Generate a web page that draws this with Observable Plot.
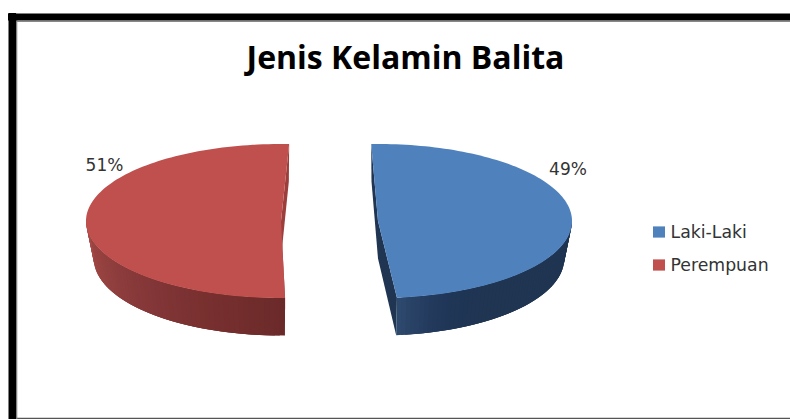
<!DOCTYPE html>
<html>
<head>
<meta charset="utf-8">
<style>html,body{margin:0;padding:0;background:#fff}svg{display:block}</style>
<script src="https://cdn.jsdelivr.net/npm/d3@7"></script>
<script src="https://cdn.jsdelivr.net/npm/@observablehq/plot@0.6"></script>
</head>
<body>
<div id="chart"></div>
<script>
// Chart content
const chartTitle = "Jenis Kelamin Balita";
const categories = ["Laki-Laki", "Perempuan"];
const shares = [49, 51];

// Drawing geometry of the exploded, tilted pie (in pixel-sized plot units)
const W = 790, H = 419;
const startAngles = [-2, 178.8];          // degrees clockwise from 12 o'clock
const centerX = [378, 281];
const radiusX = [194, 195];
const centerY = 221, radiusY = 77, depth = 37.5, baseShrink = 0.96;
const labelPos = [[567.5, 169], [104, 165.5]];
const legendY = [232, 265];

// Palette
const topFill = ["#4f81bd", "#c0504d"];
const faceFill = ["#1f3552", "#9c3f3c"];
const wallStops = [
  ["#1f3552", "#1f3552", "#1f3552", "#1f3552", "#1f3552", "#1f3552", "#20365a", "#2f4c70"],
  ["#6b2a2a", "#78302e", "#85373a", "#954240", "#a84c48"]
];

const rad = d => d * Math.PI / 180;
const onTop = (i, a) => [centerX[i] + radiusX[i] * Math.sin(rad(a)), centerY - radiusY * Math.cos(rad(a))];
const onBase = (i, a) => [centerX[i] + baseShrink * radiusX[i] * Math.sin(rad(a)), centerY + depth - radiusY * Math.cos(rad(a))];

// Each piece is an area between two polylines: (x1,y1) along one, (x2,y2) along the other
const pieces = [];
const addPiece = (key, fill, rowsA, rowsB) => rowsA.forEach((p, j) =>
  pieces.push({key, fill, x1: p[0], y1: p[1], x2: rowsB[j][0], y2: rowsB[j][1]}));

categories.forEach((cat, i) => {
  const a0 = startAngles[i], a1 = a0 + shares[i] * 3.6;
  const apex = [centerX[i], centerY], apexBase = [centerX[i], centerY + depth];

  // cut faces first, so the outer wall and the top sit over them
  addPiece(`${cat}-f0`, faceFill[i], [onTop(i, a0), apex], [onBase(i, a0), apexBase]);
  addPiece(`${cat}-f1`, faceFill[i], [apex, onTop(i, a1)], [apexBase, onBase(i, a1)]);

  // outer wall: only the part facing the viewer, shaded in narrow strips.
  // Each strip runs on under the next one so no seams show between them.
  const shade = d3.interpolateRgbBasis(wallStops[i]);
  const from = i === 0 ? 90 : a0, to = i === 0 ? a1 : 272, n = 60;
  const order = i === 0 ? d3.range(n - 1, -1, -1) : d3.range(n);
  order.forEach(k => {
    const au = from + (to - from) * k / n, av = from + (to - from) * (k + 1) / n;
    const lo = i === 0 ? au - (to - from) * 2 / n : au;
    const hi = i === 0 ? av : av + (to - from) * 2 / n;
    const start = Math.max(lo, Math.min(from, to)), end = Math.min(hi, Math.max(from, to));
    addPiece(`${cat}-w${k}`, shade(k / n), [onTop(i, start), onTop(i, end)], [onBase(i, start), onBase(i, end)]);
  });

  // top surface as a fan from the apex
  const rim = d3.range(0, 121).map(k => onTop(i, a0 + (a1 - a0) * k / 120));
  addPiece(`${cat}-top`, topFill[i], rim, rim.map(() => apex));
});

const labels = categories.map((c, i) => ({text: `${shares[i]}%`, x: labelPos[i][0], y: labelPos[i][1]}));
const legendRows = categories.map((c, i) => ({c, i, y: legendY[i], fill: topFill[i]}));

const plot = Plot.plot({
  width: W, height: H, margin: 0,
  x: {domain: [0, W], range: [0, W], axis: null},
  y: {domain: [0, H], range: [0, H], axis: null},
  color: {type: "identity"},
  style: {background: "#fff", fontFamily: "'DejaVu Sans', sans-serif"},
  marks: [
    // frame of the slide
    Plot.ruleY([417.9], {x1: 15, x2: W, stroke: "#555", strokeWidth: 1.2}),
    Plot.ruleX([16.2], {y1: 20, y2: H, stroke: "#888", strokeWidth: 1.2}),
    Plot.ruleY([20.8], {x1: 16, x2: W, stroke: "#888", strokeWidth: 1.2}),
    Plot.ruleX([11.8], {y1: 13, y2: H, stroke: "#000", strokeWidth: 7.6}),
    Plot.ruleY([16.5], {x1: 8, x2: W, stroke: "#000", strokeWidth: 7.2}),

    Plot.area(pieces, {x1: "x1", y1: "y1", x2: "x2", y2: "y2", z: "key", fill: "fill", curve: "linear"}),

    Plot.text([chartTitle], {x: 405, y: 58, text: d => d, fontFamily: "'Open Sans', sans-serif", fontSize: 32, fontWeight: 700, fill: "#000", textAnchor: "middle"}),
    Plot.text(labels, {x: "x", y: "y", text: "text", fontSize: 17, fill: "#333", textAnchor: "middle"}),

    Plot.rect(legendRows, {x1: () => 653, x2: () => 665, y1: d => d.y - 5.6, y2: d => d.y + 5.6, fill: "fill"}),
    Plot.text(legendRows, {x: () => 670, y: "y", text: "c", fontSize: 17.3, fill: "#333", textAnchor: "start"})
  ]
});
document.getElementById("chart").appendChild(plot);
</script>
</body>
</html>
